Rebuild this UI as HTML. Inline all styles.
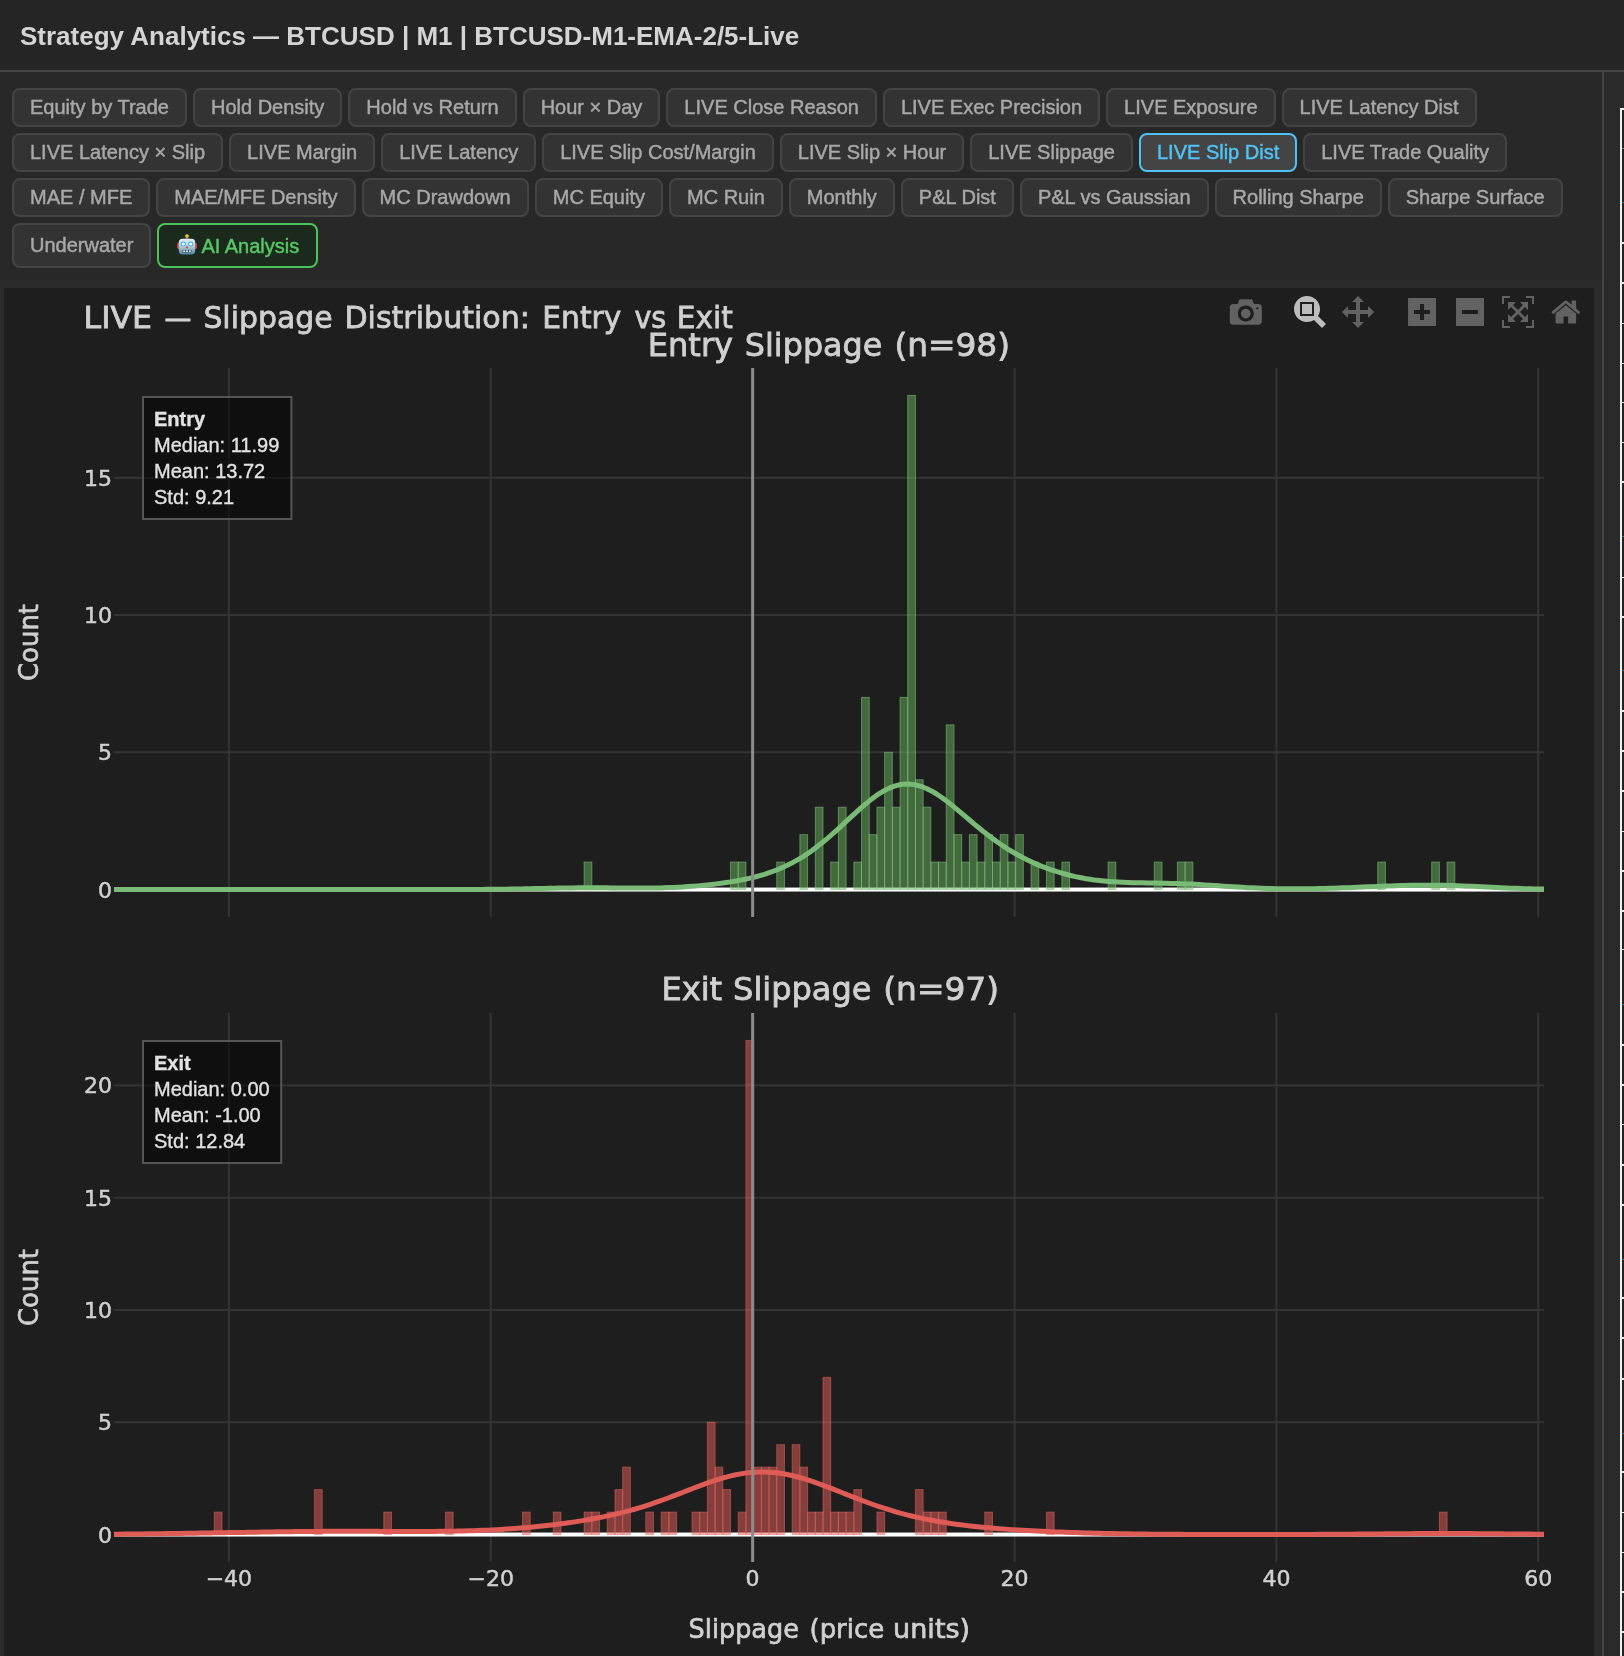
<!DOCTYPE html><html><head><meta charset="utf-8"><title>Strategy Analytics</title><style>
*{box-sizing:border-box}
html,body{margin:0;padding:0}
body{width:1624px;height:1656px;overflow:hidden;position:relative;background:#2b2b2b;font-family:"Liberation Sans",Arial,Helvetica,sans-serif;}
#hdr{position:absolute;left:0;top:0;width:1624px;height:72px;background:#252525;border-bottom:2px solid #444}
#hdr h1{position:absolute;left:20px;top:21px;margin:0;font-size:26px;line-height:30px;font-weight:bold;color:#d4d4d4;white-space:nowrap;letter-spacing:0}
#tabs{position:absolute;left:12px;top:88px;width:1600px}
.row{display:flex;gap:6px;margin-bottom:6px;align-items:flex-start}
.tab{height:39px;border:2px solid #444;border-radius:8px;background:#333;color:#a8a8a8;font-size:20px;line-height:35px;padding:0 16px;white-space:nowrap;-webkit-text-stroke:0.45px currentColor}
.tab.act{background:#444;border-color:#4fc3f7;color:#4fc3f7}
.tab.tall{height:45px;line-height:40px}
.tab.ai{height:45px;line-height:40px;background:#1b2a1c;border-color:#4cc35a;color:#57c766;display:flex;align-items:center;padding:0 17px 0 18px}
.tab.ai svg{margin-right:4px;display:block;position:relative;top:-0.9px}
.tab.ai span{position:relative;top:0.5px}
.brk{flex-basis:100%;height:0}
#tabbar{position:absolute;left:0;top:72px;width:1602px;height:208px;background:#282828}
#rpanel{position:absolute;left:1604px;top:72px;width:20px;height:1584px;background:#2a2a2a}
#divider{position:absolute;left:1602px;top:72px;width:2px;height:1584px;background:#444}
#chart{position:absolute;left:4px;top:288px;will-change:transform}
#tabs,#hdr h1{will-change:transform}
.rt{position:absolute;background:#efefef}
</style></head><body>
<div id="hdr"><h1>Strategy Analytics — BTCUSD | M1 | BTCUSD-M1-EMA-2/5-Live</h1></div>
<div id="tabbar"></div><div id="rpanel"></div>
<div id="tabs">
<div class="row">
<div class="tab">Equity by Trade</div>
<div class="tab">Hold Density</div>
<div class="tab">Hold vs Return</div>
<div class="tab">Hour × Day</div>
<div class="tab">LIVE Close Reason</div>
<div class="tab">LIVE Exec Precision</div>
<div class="tab">LIVE Exposure</div>
<div class="tab">LIVE Latency Dist</div>
</div>
<div class="row">
<div class="tab">LIVE Latency × Slip</div>
<div class="tab">LIVE Margin</div>
<div class="tab">LIVE Latency</div>
<div class="tab">LIVE Slip Cost/Margin</div>
<div class="tab">LIVE Slip × Hour</div>
<div class="tab">LIVE Slippage</div>
<div class="tab act">LIVE Slip Dist</div>
<div class="tab">LIVE Trade Quality</div>
</div>
<div class="row">
<div class="tab">MAE / MFE</div>
<div class="tab">MAE/MFE Density</div>
<div class="tab">MC Drawdown</div>
<div class="tab">MC Equity</div>
<div class="tab">MC Ruin</div>
<div class="tab">Monthly</div>
<div class="tab">P&amp;L Dist</div>
<div class="tab">P&amp;L vs Gaussian</div>
<div class="tab">Rolling Sharpe</div>
<div class="tab">Sharpe Surface</div>
</div>
<div class="row">
<div class="tab tall">Underwater</div>
<div class="tab ai"><svg width="20" height="21.3" viewBox="0 0 20 22" preserveAspectRatio="none"><defs><linearGradient id="rg" x1="0" y1="0" x2="0" y2="1"><stop offset="0" stop-color="#e6f0f4"/><stop offset="0.45" stop-color="#b9d3de"/><stop offset="1" stop-color="#4f84a0"/></linearGradient></defs><rect x="8.6" y="3.4" width="2.8" height="2.2" rx="0.8" fill="#7d4fa3"/><circle cx="10" cy="2.1" r="1.9" fill="#f4c430"/><rect x="0" y="9.3" width="3" height="6.2" rx="1.2" fill="#c5473a"/><rect x="17" y="9.3" width="3" height="6.2" rx="1.2" fill="#c5473a"/><rect x="1.8" y="4.8" width="16.4" height="16.4" rx="3.8" fill="url(#rg)"/><circle cx="6.3" cy="10.4" r="2.6" fill="#35b6e6"/><circle cx="13.7" cy="10.4" r="2.6" fill="#35b6e6"/><circle cx="6.3" cy="10.4" r="1.6" fill="#f4fbfd"/><circle cx="13.7" cy="10.4" r="1.6" fill="#f4fbfd"/><path d="M8.7 14.6 L11.3 14.6 L10 11.6 Z" fill="#e0493b"/><rect x="5.4" y="16.4" width="9.2" height="2.6" rx="0.7" fill="#3d5663"/><rect x="6.2" y="17" width="1.9" height="1.5" fill="#e8eef0"/><rect x="9.05" y="17" width="1.9" height="1.5" fill="#e8eef0"/><rect x="11.9" y="17" width="1.9" height="1.5" fill="#e8eef0"/></svg><span>AI Analysis</span></div>
</div>
</div>
<div id="divider"></div>
<div style="position:absolute;left:1622px;top:110px;width:2px;height:1546px;background:#222"></div>
<div class="rt" style="left:1620px;top:108px;width:2px;height:1548px"></div>
<div class="rt" style="left:1622px;top:108px;width:2px;height:2px"></div>
<div class="rt" style="left:1622px;top:148px;width:2px;height:1.4px;background:#777"></div>
<div class="rt" style="left:1622px;top:242.4px;width:2px;height:1.6px"></div>
<div class="rt" style="left:1622px;top:282.3px;width:2px;height:1.6px"></div>
<div class="rt" style="left:1622px;top:322.6px;width:2px;height:1.6px"></div>
<div class="rt" style="left:1622px;top:362.5px;width:2px;height:1.6px"></div>
<div class="rt" style="left:1622px;top:401.7px;width:2px;height:1.6px"></div>
<div class="rt" style="left:1622px;top:441.5px;width:2px;height:1.6px"></div>
<div class="rt" style="left:1622px;top:481.2px;width:2px;height:1.6px"></div>
<div class="rt" style="left:1622px;top:576.5px;width:2px;height:1.6px"></div>
<div class="rt" style="left:1622px;top:616.2px;width:2px;height:1.6px"></div>
<div class="rt" style="left:1622px;top:710.2px;width:2px;height:1.6px"></div>
<div class="rt" style="left:1622px;top:750.2px;width:2px;height:1.6px"></div>
<div class="rt" style="left:1622px;top:790.2px;width:2px;height:1.6px"></div>
<div class="rt" style="left:1622px;top:830.5px;width:2px;height:1.6px"></div>
<div class="rt" style="left:1622px;top:870.2px;width:2px;height:1.6px"></div>
<div class="rt" style="left:1622px;top:910.2px;width:2px;height:1.6px"></div>
<div class="rt" style="left:1622px;top:948.9px;width:2px;height:1.6px"></div>
<div class="rt" style="left:1622px;top:1044.2px;width:2px;height:1.6px"></div>
<div class="rt" style="left:1622px;top:1084.2px;width:2px;height:1.6px"></div>
<div class="rt" style="left:1622px;top:1123.8px;width:2px;height:1.6px"></div>
<div class="rt" style="left:1622px;top:1164.2px;width:2px;height:1.6px"></div>
<div class="rt" style="left:1622px;top:1204.2px;width:2px;height:1.6px"></div>
<div class="rt" style="left:1622px;top:1297.2px;width:2px;height:1.6px"></div>
<div class="rt" style="left:1622px;top:1337.2px;width:2px;height:1.6px"></div>
<div class="rt" style="left:1622px;top:1378.2px;width:2px;height:1.6px"></div>
<div class="rt" style="left:1622px;top:1471.2px;width:2px;height:1.6px"></div>
<div class="rt" style="left:1622px;top:1511.7px;width:2px;height:1.6px"></div>
<div class="rt" style="left:1622px;top:1551.7px;width:2px;height:1.6px"></div>
<div class="rt" style="left:1622px;top:1591.2px;width:2px;height:1.6px"></div>
<div class="rt" style="left:1622px;top:1631.2px;width:2px;height:1.6px"></div>
<div class="rt" style="left:1622px;top:202.2px;width:2px;height:1px;background:#3f6f8c"></div>
<div class="rt" style="left:1622px;top:536.2px;width:2px;height:1px;background:#3f6f8c"></div>
<div class="rt" style="left:1622px;top:670.0px;width:2px;height:1px;background:#3f6f8c"></div>
<div class="rt" style="left:1622px;top:1004.1px;width:2px;height:1px;background:#3f6f8c"></div>
<div class="rt" style="left:1622px;top:1258.5px;width:2px;height:1px;background:#3f6f8c"></div>
<div class="rt" style="left:1622px;top:1432.5px;width:2px;height:1px;background:#3f6f8c"></div>
<svg id="chart" width="1590" height="1368" viewBox="4 288 1590 1368" font-family="'DejaVu Sans',Verdana,sans-serif">
<rect x="4" y="288" width="1590" height="1368" fill="#1e1e1e"/>
<defs><clipPath id="c1"><rect x="114" y="368" width="1430" height="549"/></clipPath><clipPath id="c2"><rect x="114" y="1013" width="1430" height="549"/></clipPath></defs>
<rect x="227.85" y="368.0" width="2" height="549.0" fill="#343434"/>
<rect x="489.74" y="368.0" width="2" height="549.0" fill="#343434"/>
<rect x="751.63" y="368.0" width="2" height="549.0" fill="#343434"/>
<rect x="1013.52" y="368.0" width="2" height="549.0" fill="#343434"/>
<rect x="1275.41" y="368.0" width="2" height="549.0" fill="#343434"/>
<rect x="1537.30" y="368.0" width="2" height="549.0" fill="#343434"/>
<rect x="114" y="751.30" width="1430" height="2" fill="#343434"/>
<rect x="114" y="614.05" width="1430" height="2" fill="#343434"/>
<rect x="114" y="476.80" width="1430" height="2" fill="#343434"/>
<rect x="114" y="887.55" width="1430" height="4" fill="#ffffff"/>
<g clip-path="url(#c1)">
<rect x="584.14" y="862.10" width="7.705" height="27.45" fill="rgba(104,182,92,0.5)" stroke="rgba(129,199,132,0.55)" stroke-width="1"/>
<rect x="730.54" y="862.10" width="7.705" height="27.45" fill="rgba(104,182,92,0.5)" stroke="rgba(129,199,132,0.55)" stroke-width="1"/>
<rect x="738.24" y="862.10" width="7.705" height="27.45" fill="rgba(104,182,92,0.5)" stroke="rgba(129,199,132,0.55)" stroke-width="1"/>
<rect x="776.77" y="862.10" width="7.705" height="27.45" fill="rgba(104,182,92,0.5)" stroke="rgba(129,199,132,0.55)" stroke-width="1"/>
<rect x="799.88" y="834.65" width="7.705" height="54.90" fill="rgba(104,182,92,0.5)" stroke="rgba(129,199,132,0.55)" stroke-width="1"/>
<rect x="815.29" y="807.20" width="7.705" height="82.35" fill="rgba(104,182,92,0.5)" stroke="rgba(129,199,132,0.55)" stroke-width="1"/>
<rect x="830.70" y="862.10" width="7.705" height="27.45" fill="rgba(104,182,92,0.5)" stroke="rgba(129,199,132,0.55)" stroke-width="1"/>
<rect x="838.40" y="807.20" width="7.705" height="82.35" fill="rgba(104,182,92,0.5)" stroke="rgba(129,199,132,0.55)" stroke-width="1"/>
<rect x="853.82" y="862.10" width="7.705" height="27.45" fill="rgba(104,182,92,0.5)" stroke="rgba(129,199,132,0.55)" stroke-width="1"/>
<rect x="861.52" y="697.40" width="7.705" height="192.15" fill="rgba(104,182,92,0.5)" stroke="rgba(129,199,132,0.55)" stroke-width="1"/>
<rect x="869.22" y="834.65" width="7.705" height="54.90" fill="rgba(104,182,92,0.5)" stroke="rgba(129,199,132,0.55)" stroke-width="1"/>
<rect x="876.93" y="807.20" width="7.705" height="82.35" fill="rgba(104,182,92,0.5)" stroke="rgba(129,199,132,0.55)" stroke-width="1"/>
<rect x="884.63" y="752.30" width="7.705" height="137.25" fill="rgba(104,182,92,0.5)" stroke="rgba(129,199,132,0.55)" stroke-width="1"/>
<rect x="892.34" y="807.20" width="7.705" height="82.35" fill="rgba(104,182,92,0.5)" stroke="rgba(129,199,132,0.55)" stroke-width="1"/>
<rect x="900.05" y="697.40" width="7.705" height="192.15" fill="rgba(104,182,92,0.5)" stroke="rgba(129,199,132,0.55)" stroke-width="1"/>
<rect x="907.75" y="395.45" width="7.705" height="494.10" fill="rgba(104,182,92,0.5)" stroke="rgba(129,199,132,0.55)" stroke-width="1"/>
<rect x="915.45" y="779.75" width="7.705" height="109.80" fill="rgba(104,182,92,0.5)" stroke="rgba(129,199,132,0.55)" stroke-width="1"/>
<rect x="923.16" y="807.20" width="7.705" height="82.35" fill="rgba(104,182,92,0.5)" stroke="rgba(129,199,132,0.55)" stroke-width="1"/>
<rect x="930.87" y="862.10" width="7.705" height="27.45" fill="rgba(104,182,92,0.5)" stroke="rgba(129,199,132,0.55)" stroke-width="1"/>
<rect x="938.57" y="862.10" width="7.705" height="27.45" fill="rgba(104,182,92,0.5)" stroke="rgba(129,199,132,0.55)" stroke-width="1"/>
<rect x="946.28" y="724.85" width="7.705" height="164.70" fill="rgba(104,182,92,0.5)" stroke="rgba(129,199,132,0.55)" stroke-width="1"/>
<rect x="953.98" y="834.65" width="7.705" height="54.90" fill="rgba(104,182,92,0.5)" stroke="rgba(129,199,132,0.55)" stroke-width="1"/>
<rect x="961.68" y="862.10" width="7.705" height="27.45" fill="rgba(104,182,92,0.5)" stroke="rgba(129,199,132,0.55)" stroke-width="1"/>
<rect x="969.39" y="834.65" width="7.705" height="54.90" fill="rgba(104,182,92,0.5)" stroke="rgba(129,199,132,0.55)" stroke-width="1"/>
<rect x="977.10" y="862.10" width="7.705" height="27.45" fill="rgba(104,182,92,0.5)" stroke="rgba(129,199,132,0.55)" stroke-width="1"/>
<rect x="984.80" y="834.65" width="7.705" height="54.90" fill="rgba(104,182,92,0.5)" stroke="rgba(129,199,132,0.55)" stroke-width="1"/>
<rect x="992.51" y="862.10" width="7.705" height="27.45" fill="rgba(104,182,92,0.5)" stroke="rgba(129,199,132,0.55)" stroke-width="1"/>
<rect x="1000.21" y="834.65" width="7.705" height="54.90" fill="rgba(104,182,92,0.5)" stroke="rgba(129,199,132,0.55)" stroke-width="1"/>
<rect x="1007.91" y="862.10" width="7.705" height="27.45" fill="rgba(104,182,92,0.5)" stroke="rgba(129,199,132,0.55)" stroke-width="1"/>
<rect x="1015.62" y="834.65" width="7.705" height="54.90" fill="rgba(104,182,92,0.5)" stroke="rgba(129,199,132,0.55)" stroke-width="1"/>
<rect x="1031.03" y="862.10" width="7.705" height="27.45" fill="rgba(104,182,92,0.5)" stroke="rgba(129,199,132,0.55)" stroke-width="1"/>
<rect x="1046.44" y="862.10" width="7.705" height="27.45" fill="rgba(104,182,92,0.5)" stroke="rgba(129,199,132,0.55)" stroke-width="1"/>
<rect x="1061.85" y="862.10" width="7.705" height="27.45" fill="rgba(104,182,92,0.5)" stroke="rgba(129,199,132,0.55)" stroke-width="1"/>
<rect x="1108.08" y="862.10" width="7.705" height="27.45" fill="rgba(104,182,92,0.5)" stroke="rgba(129,199,132,0.55)" stroke-width="1"/>
<rect x="1154.31" y="862.10" width="7.705" height="27.45" fill="rgba(104,182,92,0.5)" stroke="rgba(129,199,132,0.55)" stroke-width="1"/>
<rect x="1177.42" y="862.10" width="7.705" height="27.45" fill="rgba(104,182,92,0.5)" stroke="rgba(129,199,132,0.55)" stroke-width="1"/>
<rect x="1185.13" y="862.10" width="7.705" height="27.45" fill="rgba(104,182,92,0.5)" stroke="rgba(129,199,132,0.55)" stroke-width="1"/>
<rect x="1377.75" y="862.10" width="7.705" height="27.45" fill="rgba(104,182,92,0.5)" stroke="rgba(129,199,132,0.55)" stroke-width="1"/>
<rect x="1431.69" y="862.10" width="7.705" height="27.45" fill="rgba(104,182,92,0.5)" stroke="rgba(129,199,132,0.55)" stroke-width="1"/>
<rect x="1447.10" y="862.10" width="7.705" height="27.45" fill="rgba(104,182,92,0.5)" stroke="rgba(129,199,132,0.55)" stroke-width="1"/>
<path d="M114.0,889.55 L118.8,889.55 L123.6,889.55 L128.3,889.55 L133.1,889.55 L137.9,889.55 L142.7,889.55 L147.5,889.55 L152.3,889.55 L157.0,889.55 L161.8,889.55 L166.6,889.55 L171.4,889.55 L176.2,889.55 L181.0,889.55 L185.7,889.55 L190.5,889.55 L195.3,889.55 L200.1,889.55 L204.9,889.55 L209.7,889.55 L214.4,889.55 L219.2,889.55 L224.0,889.55 L228.8,889.55 L233.6,889.55 L238.3,889.55 L243.1,889.55 L247.9,889.55 L252.7,889.55 L257.5,889.55 L262.3,889.55 L267.0,889.55 L271.8,889.55 L276.6,889.55 L281.4,889.55 L286.2,889.55 L291.0,889.55 L295.7,889.55 L300.5,889.55 L305.3,889.55 L310.1,889.55 L314.9,889.55 L319.7,889.55 L324.4,889.55 L329.2,889.55 L334.0,889.55 L338.8,889.55 L343.6,889.55 L348.3,889.55 L353.1,889.55 L357.9,889.55 L362.7,889.55 L367.5,889.55 L372.3,889.55 L377.0,889.55 L381.8,889.55 L386.6,889.55 L391.4,889.55 L396.2,889.55 L401.0,889.55 L405.7,889.55 L410.5,889.55 L415.3,889.55 L420.1,889.55 L424.9,889.54 L429.7,889.54 L434.4,889.54 L439.2,889.53 L444.0,889.53 L448.8,889.52 L453.6,889.51 L458.3,889.50 L463.1,889.49 L467.9,889.47 L472.7,889.45 L477.5,889.42 L482.3,889.39 L487.0,889.35 L491.8,889.31 L496.6,889.25 L501.4,889.20 L506.2,889.13 L511.0,889.06 L515.7,888.98 L520.5,888.89 L525.3,888.79 L530.1,888.70 L534.9,888.59 L539.7,888.49 L544.4,888.39 L549.2,888.28 L554.0,888.19 L558.8,888.10 L563.6,888.01 L568.3,887.94 L573.1,887.88 L577.9,887.83 L582.7,887.80 L587.5,887.78 L592.3,887.78 L597.0,887.79 L601.8,887.81 L606.6,887.84 L611.4,887.88 L616.2,887.92 L621.0,887.97 L625.7,888.01 L630.5,888.04 L635.3,888.06 L640.1,888.07 L644.9,888.06 L649.7,888.03 L654.4,887.97 L659.2,887.88 L664.0,887.76 L668.8,887.60 L673.6,887.41 L678.3,887.18 L683.1,886.92 L687.9,886.61 L692.7,886.27 L697.5,885.88 L702.3,885.45 L707.0,884.97 L711.8,884.45 L716.6,883.89 L721.4,883.26 L726.2,882.59 L731.0,881.85 L735.7,881.04 L740.5,880.16 L745.3,879.19 L750.1,878.13 L754.9,876.97 L759.7,875.68 L764.4,874.27 L769.2,872.71 L774.0,871.00 L778.8,869.12 L783.6,867.06 L788.3,864.81 L793.1,862.35 L797.9,859.68 L802.7,856.79 L807.5,853.68 L812.3,850.35 L817.0,846.80 L821.8,843.04 L826.6,839.09 L831.4,834.97 L836.2,830.71 L841.0,826.34 L845.7,821.90 L850.5,817.45 L855.3,813.04 L860.1,808.72 L864.9,804.56 L869.7,800.63 L874.4,796.98 L879.2,793.68 L884.0,790.79 L888.8,788.36 L893.6,786.44 L898.3,785.06 L903.1,784.25 L907.9,784.02 L912.7,784.37 L917.5,785.29 L922.3,786.75 L927.0,788.72 L931.8,791.16 L936.6,794.01 L941.4,797.21 L946.2,800.72 L951.0,804.45 L955.7,808.35 L960.5,812.36 L965.3,816.43 L970.1,820.50 L974.9,824.54 L979.7,828.50 L984.4,832.34 L989.2,836.06 L994.0,839.63 L998.8,843.04 L1003.6,846.29 L1008.3,849.36 L1013.1,852.26 L1017.9,855.00 L1022.7,857.57 L1027.5,859.99 L1032.3,862.25 L1037.0,864.36 L1041.8,866.34 L1046.6,868.18 L1051.4,869.89 L1056.2,871.47 L1061.0,872.92 L1065.7,874.26 L1070.5,875.47 L1075.3,876.58 L1080.1,877.57 L1084.9,878.46 L1089.7,879.24 L1094.4,879.93 L1099.2,880.52 L1104.0,881.03 L1108.8,881.46 L1113.6,881.81 L1118.3,882.10 L1123.1,882.33 L1127.9,882.51 L1132.7,882.66 L1137.5,882.77 L1142.3,882.86 L1147.0,882.94 L1151.8,883.01 L1156.6,883.09 L1161.4,883.17 L1166.2,883.27 L1171.0,883.39 L1175.7,883.53 L1180.5,883.70 L1185.3,883.89 L1190.1,884.11 L1194.9,884.36 L1199.7,884.62 L1204.4,884.91 L1209.2,885.21 L1214.0,885.53 L1218.8,885.84 L1223.6,886.16 L1228.3,886.48 L1233.1,886.79 L1237.9,887.09 L1242.7,887.37 L1247.5,887.63 L1252.3,887.86 L1257.0,888.08 L1261.8,888.27 L1266.6,888.43 L1271.4,888.56 L1276.2,888.67 L1281.0,888.76 L1285.7,888.81 L1290.5,888.85 L1295.3,888.85 L1300.1,888.84 L1304.9,888.80 L1309.7,888.74 L1314.4,888.66 L1319.2,888.56 L1324.0,888.44 L1328.8,888.31 L1333.6,888.16 L1338.3,888.00 L1343.1,887.83 L1347.9,887.65 L1352.7,887.45 L1357.5,887.26 L1362.3,887.06 L1367.0,886.85 L1371.8,886.65 L1376.6,886.45 L1381.4,886.26 L1386.2,886.07 L1391.0,885.89 L1395.7,885.73 L1400.5,885.59 L1405.3,885.46 L1410.1,885.35 L1414.9,885.27 L1419.7,885.21 L1424.4,885.18 L1429.2,885.18 L1434.0,885.21 L1438.8,885.26 L1443.6,885.35 L1448.3,885.46 L1453.1,885.60 L1457.9,885.76 L1462.7,885.95 L1467.5,886.15 L1472.3,886.36 L1477.0,886.59 L1481.8,886.82 L1486.6,887.06 L1491.4,887.29 L1496.2,887.52 L1501.0,887.74 L1505.7,887.95 L1510.5,888.15 L1515.3,888.34 L1520.1,888.51 L1524.9,888.66 L1529.7,888.80 L1534.4,888.92 L1539.2,889.03 L1544.0,889.12" fill="none" stroke="#7aba77" stroke-width="5" stroke-linejoin="round"/>
</g>
<rect x="751.13" y="368.0" width="3" height="549.0" fill="#8c8c8c"/>
<text x="112" y="897.5" font-size="22" fill="#d0d0d0" stroke="#d0d0d0" stroke-width="0.5" text-anchor="end">0</text>
<text x="112" y="760.3" font-size="22" fill="#d0d0d0" stroke="#d0d0d0" stroke-width="0.5" text-anchor="end">5</text>
<text x="112" y="623.0" font-size="22" fill="#d0d0d0" stroke="#d0d0d0" stroke-width="0.5" text-anchor="end">10</text>
<text x="112" y="485.8" font-size="22" fill="#d0d0d0" stroke="#d0d0d0" stroke-width="0.5" text-anchor="end">15</text>
<text transform="translate(37.5,642.5) rotate(-90)"  font-size="26" fill="#d0d0d0" stroke="#d0d0d0" stroke-width="0.65" text-anchor="middle" textLength="77" lengthAdjust="spacingAndGlyphs">Count</text>
<rect x="227.85" y="1013.0" width="2" height="549.0" fill="#343434"/>
<rect x="489.74" y="1013.0" width="2" height="549.0" fill="#343434"/>
<rect x="751.63" y="1013.0" width="2" height="549.0" fill="#343434"/>
<rect x="1013.52" y="1013.0" width="2" height="549.0" fill="#343434"/>
<rect x="1275.41" y="1013.0" width="2" height="549.0" fill="#343434"/>
<rect x="1537.30" y="1013.0" width="2" height="549.0" fill="#343434"/>
<rect x="114" y="1421.25" width="1430" height="2" fill="#343434"/>
<rect x="114" y="1308.96" width="1430" height="2" fill="#343434"/>
<rect x="114" y="1196.66" width="1430" height="2" fill="#343434"/>
<rect x="114" y="1084.37" width="1430" height="2" fill="#343434"/>
<rect x="114" y="1532.55" width="1430" height="4" fill="#ffffff"/>
<g clip-path="url(#c2)">
<rect x="214.30" y="1512.09" width="7.705" height="22.46" fill="rgba(234,96,90,0.5)" stroke="rgba(236,104,98,0.5)" stroke-width="1"/>
<rect x="314.47" y="1489.63" width="7.705" height="44.92" fill="rgba(234,96,90,0.5)" stroke="rgba(236,104,98,0.5)" stroke-width="1"/>
<rect x="383.81" y="1512.09" width="7.705" height="22.46" fill="rgba(234,96,90,0.5)" stroke="rgba(236,104,98,0.5)" stroke-width="1"/>
<rect x="445.45" y="1512.09" width="7.705" height="22.46" fill="rgba(234,96,90,0.5)" stroke="rgba(236,104,98,0.5)" stroke-width="1"/>
<rect x="522.50" y="1512.09" width="7.705" height="22.46" fill="rgba(234,96,90,0.5)" stroke="rgba(236,104,98,0.5)" stroke-width="1"/>
<rect x="553.32" y="1512.09" width="7.705" height="22.46" fill="rgba(234,96,90,0.5)" stroke="rgba(236,104,98,0.5)" stroke-width="1"/>
<rect x="584.14" y="1512.09" width="7.705" height="22.46" fill="rgba(234,96,90,0.5)" stroke="rgba(236,104,98,0.5)" stroke-width="1"/>
<rect x="591.85" y="1512.09" width="7.705" height="22.46" fill="rgba(234,96,90,0.5)" stroke="rgba(236,104,98,0.5)" stroke-width="1"/>
<rect x="607.25" y="1512.09" width="7.705" height="22.46" fill="rgba(234,96,90,0.5)" stroke="rgba(236,104,98,0.5)" stroke-width="1"/>
<rect x="614.96" y="1489.63" width="7.705" height="44.92" fill="rgba(234,96,90,0.5)" stroke="rgba(236,104,98,0.5)" stroke-width="1"/>
<rect x="622.66" y="1467.17" width="7.705" height="67.38" fill="rgba(234,96,90,0.5)" stroke="rgba(236,104,98,0.5)" stroke-width="1"/>
<rect x="645.78" y="1512.09" width="7.705" height="22.46" fill="rgba(234,96,90,0.5)" stroke="rgba(236,104,98,0.5)" stroke-width="1"/>
<rect x="661.19" y="1512.09" width="7.705" height="22.46" fill="rgba(234,96,90,0.5)" stroke="rgba(236,104,98,0.5)" stroke-width="1"/>
<rect x="668.89" y="1512.09" width="7.705" height="22.46" fill="rgba(234,96,90,0.5)" stroke="rgba(236,104,98,0.5)" stroke-width="1"/>
<rect x="692.01" y="1512.09" width="7.705" height="22.46" fill="rgba(234,96,90,0.5)" stroke="rgba(236,104,98,0.5)" stroke-width="1"/>
<rect x="699.72" y="1512.09" width="7.705" height="22.46" fill="rgba(234,96,90,0.5)" stroke="rgba(236,104,98,0.5)" stroke-width="1"/>
<rect x="707.42" y="1422.25" width="7.705" height="112.30" fill="rgba(234,96,90,0.5)" stroke="rgba(236,104,98,0.5)" stroke-width="1"/>
<rect x="715.12" y="1467.17" width="7.705" height="67.38" fill="rgba(234,96,90,0.5)" stroke="rgba(236,104,98,0.5)" stroke-width="1"/>
<rect x="722.83" y="1489.63" width="7.705" height="44.92" fill="rgba(234,96,90,0.5)" stroke="rgba(236,104,98,0.5)" stroke-width="1"/>
<rect x="738.24" y="1512.09" width="7.705" height="22.46" fill="rgba(234,96,90,0.5)" stroke="rgba(236,104,98,0.5)" stroke-width="1"/>
<rect x="745.94" y="1040.45" width="7.705" height="494.10" fill="rgba(234,96,90,0.5)" stroke="rgba(236,104,98,0.5)" stroke-width="1"/>
<rect x="753.65" y="1467.17" width="7.705" height="67.38" fill="rgba(234,96,90,0.5)" stroke="rgba(236,104,98,0.5)" stroke-width="1"/>
<rect x="761.36" y="1467.17" width="7.705" height="67.38" fill="rgba(234,96,90,0.5)" stroke="rgba(236,104,98,0.5)" stroke-width="1"/>
<rect x="769.06" y="1467.17" width="7.705" height="67.38" fill="rgba(234,96,90,0.5)" stroke="rgba(236,104,98,0.5)" stroke-width="1"/>
<rect x="776.77" y="1444.71" width="7.705" height="89.84" fill="rgba(234,96,90,0.5)" stroke="rgba(236,104,98,0.5)" stroke-width="1"/>
<rect x="792.17" y="1444.71" width="7.705" height="89.84" fill="rgba(234,96,90,0.5)" stroke="rgba(236,104,98,0.5)" stroke-width="1"/>
<rect x="799.88" y="1467.17" width="7.705" height="67.38" fill="rgba(234,96,90,0.5)" stroke="rgba(236,104,98,0.5)" stroke-width="1"/>
<rect x="807.59" y="1512.09" width="7.705" height="22.46" fill="rgba(234,96,90,0.5)" stroke="rgba(236,104,98,0.5)" stroke-width="1"/>
<rect x="815.29" y="1512.09" width="7.705" height="22.46" fill="rgba(234,96,90,0.5)" stroke="rgba(236,104,98,0.5)" stroke-width="1"/>
<rect x="823.00" y="1377.34" width="7.705" height="157.21" fill="rgba(234,96,90,0.5)" stroke="rgba(236,104,98,0.5)" stroke-width="1"/>
<rect x="830.70" y="1512.09" width="7.705" height="22.46" fill="rgba(234,96,90,0.5)" stroke="rgba(236,104,98,0.5)" stroke-width="1"/>
<rect x="838.40" y="1512.09" width="7.705" height="22.46" fill="rgba(234,96,90,0.5)" stroke="rgba(236,104,98,0.5)" stroke-width="1"/>
<rect x="846.11" y="1512.09" width="7.705" height="22.46" fill="rgba(234,96,90,0.5)" stroke="rgba(236,104,98,0.5)" stroke-width="1"/>
<rect x="853.82" y="1489.63" width="7.705" height="44.92" fill="rgba(234,96,90,0.5)" stroke="rgba(236,104,98,0.5)" stroke-width="1"/>
<rect x="876.93" y="1512.09" width="7.705" height="22.46" fill="rgba(234,96,90,0.5)" stroke="rgba(236,104,98,0.5)" stroke-width="1"/>
<rect x="915.45" y="1489.63" width="7.705" height="44.92" fill="rgba(234,96,90,0.5)" stroke="rgba(236,104,98,0.5)" stroke-width="1"/>
<rect x="923.16" y="1512.09" width="7.705" height="22.46" fill="rgba(234,96,90,0.5)" stroke="rgba(236,104,98,0.5)" stroke-width="1"/>
<rect x="930.87" y="1512.09" width="7.705" height="22.46" fill="rgba(234,96,90,0.5)" stroke="rgba(236,104,98,0.5)" stroke-width="1"/>
<rect x="938.57" y="1512.09" width="7.705" height="22.46" fill="rgba(234,96,90,0.5)" stroke="rgba(236,104,98,0.5)" stroke-width="1"/>
<rect x="984.80" y="1512.09" width="7.705" height="22.46" fill="rgba(234,96,90,0.5)" stroke="rgba(236,104,98,0.5)" stroke-width="1"/>
<rect x="1046.44" y="1512.09" width="7.705" height="22.46" fill="rgba(234,96,90,0.5)" stroke="rgba(236,104,98,0.5)" stroke-width="1"/>
<rect x="1439.39" y="1512.09" width="7.705" height="22.46" fill="rgba(234,96,90,0.5)" stroke="rgba(236,104,98,0.5)" stroke-width="1"/>
<path d="M114.0,1534.16 L118.8,1534.13 L123.6,1534.09 L128.3,1534.06 L133.1,1534.01 L137.9,1533.97 L142.7,1533.91 L147.5,1533.86 L152.3,1533.80 L157.0,1533.74 L161.8,1533.68 L166.6,1533.61 L171.4,1533.54 L176.2,1533.47 L181.0,1533.40 L185.7,1533.33 L190.5,1533.25 L195.3,1533.18 L200.1,1533.10 L204.9,1533.02 L209.7,1532.94 L214.4,1532.86 L219.2,1532.78 L224.0,1532.70 L228.8,1532.62 L233.6,1532.54 L238.3,1532.46 L243.1,1532.38 L247.9,1532.30 L252.7,1532.22 L257.5,1532.15 L262.3,1532.07 L267.0,1531.99 L271.8,1531.92 L276.6,1531.85 L281.4,1531.78 L286.2,1531.72 L291.0,1531.66 L295.7,1531.60 L300.5,1531.55 L305.3,1531.50 L310.1,1531.45 L314.9,1531.41 L319.7,1531.38 L324.4,1531.35 L329.2,1531.33 L334.0,1531.31 L338.8,1531.30 L343.6,1531.29 L348.3,1531.29 L353.1,1531.29 L357.9,1531.30 L362.7,1531.31 L367.5,1531.32 L372.3,1531.34 L377.0,1531.36 L381.8,1531.38 L386.6,1531.39 L391.4,1531.41 L396.2,1531.43 L401.0,1531.44 L405.7,1531.45 L410.5,1531.46 L415.3,1531.46 L420.1,1531.46 L424.9,1531.45 L429.7,1531.43 L434.4,1531.40 L439.2,1531.36 L444.0,1531.31 L448.8,1531.25 L453.6,1531.17 L458.3,1531.08 L463.1,1530.97 L467.9,1530.85 L472.7,1530.70 L477.5,1530.54 L482.3,1530.36 L487.0,1530.15 L491.8,1529.93 L496.6,1529.68 L501.4,1529.41 L506.2,1529.11 L511.0,1528.79 L515.7,1528.44 L520.5,1528.07 L525.3,1527.67 L530.1,1527.24 L534.9,1526.79 L539.7,1526.31 L544.4,1525.80 L549.2,1525.26 L554.0,1524.69 L558.8,1524.10 L563.6,1523.47 L568.3,1522.81 L573.1,1522.12 L577.9,1521.39 L582.7,1520.62 L587.5,1519.82 L592.3,1518.97 L597.0,1518.08 L601.8,1517.14 L606.6,1516.15 L611.4,1515.11 L616.2,1514.00 L621.0,1512.84 L625.7,1511.62 L630.5,1510.33 L635.3,1508.98 L640.1,1507.55 L644.9,1506.07 L649.7,1504.52 L654.4,1502.90 L659.2,1501.23 L664.0,1499.50 L668.8,1497.73 L673.6,1495.92 L678.3,1494.08 L683.1,1492.22 L687.9,1490.36 L692.7,1488.51 L697.5,1486.68 L702.3,1484.89 L707.0,1483.16 L711.8,1481.49 L716.6,1479.91 L721.4,1478.44 L726.2,1477.09 L731.0,1475.87 L735.7,1474.79 L740.5,1473.88 L745.3,1473.13 L750.1,1472.56 L754.9,1472.18 L759.7,1471.98 L764.4,1471.98 L769.2,1472.16 L774.0,1472.54 L778.8,1473.10 L783.6,1473.83 L788.3,1474.73 L793.1,1475.80 L797.9,1477.01 L802.7,1478.35 L807.5,1479.82 L812.3,1481.39 L817.0,1483.05 L821.8,1484.79 L826.6,1486.59 L831.4,1488.44 L836.2,1490.32 L841.0,1492.21 L845.7,1494.11 L850.5,1496.00 L855.3,1497.87 L860.1,1499.71 L864.9,1501.52 L869.7,1503.27 L874.4,1504.98 L879.2,1506.62 L884.0,1508.21 L888.8,1509.72 L893.6,1511.17 L898.3,1512.55 L903.1,1513.86 L907.9,1515.10 L912.7,1516.27 L917.5,1517.38 L922.3,1518.42 L927.0,1519.40 L931.8,1520.32 L936.6,1521.19 L941.4,1522.00 L946.2,1522.76 L951.0,1523.48 L955.7,1524.15 L960.5,1524.78 L965.3,1525.38 L970.1,1525.93 L974.9,1526.46 L979.7,1526.95 L984.4,1527.42 L989.2,1527.85 L994.0,1528.27 L998.8,1528.65 L1003.6,1529.02 L1008.3,1529.37 L1013.1,1529.69 L1017.9,1530.00 L1022.7,1530.29 L1027.5,1530.57 L1032.3,1530.83 L1037.0,1531.07 L1041.8,1531.31 L1046.6,1531.52 L1051.4,1531.73 L1056.2,1531.93 L1061.0,1532.11 L1065.7,1532.29 L1070.5,1532.45 L1075.3,1532.61 L1080.1,1532.76 L1084.9,1532.90 L1089.7,1533.03 L1094.4,1533.15 L1099.2,1533.27 L1104.0,1533.38 L1108.8,1533.48 L1113.6,1533.58 L1118.3,1533.67 L1123.1,1533.75 L1127.9,1533.83 L1132.7,1533.91 L1137.5,1533.97 L1142.3,1534.04 L1147.0,1534.09 L1151.8,1534.14 L1156.6,1534.19 L1161.4,1534.24 L1166.2,1534.27 L1171.0,1534.31 L1175.7,1534.34 L1180.5,1534.37 L1185.3,1534.39 L1190.1,1534.42 L1194.9,1534.44 L1199.7,1534.45 L1204.4,1534.47 L1209.2,1534.48 L1214.0,1534.49 L1218.8,1534.50 L1223.6,1534.51 L1228.3,1534.51 L1233.1,1534.52 L1237.9,1534.52 L1242.7,1534.52 L1247.5,1534.52 L1252.3,1534.52 L1257.0,1534.52 L1261.8,1534.52 L1266.6,1534.51 L1271.4,1534.51 L1276.2,1534.50 L1281.0,1534.49 L1285.7,1534.48 L1290.5,1534.47 L1295.3,1534.46 L1300.1,1534.44 L1304.9,1534.43 L1309.7,1534.41 L1314.4,1534.39 L1319.2,1534.36 L1324.0,1534.34 L1328.8,1534.31 L1333.6,1534.28 L1338.3,1534.25 L1343.1,1534.21 L1347.9,1534.17 L1352.7,1534.14 L1357.5,1534.09 L1362.3,1534.05 L1367.0,1534.01 L1371.8,1533.97 L1376.6,1533.92 L1381.4,1533.88 L1386.2,1533.83 L1391.0,1533.79 L1395.7,1533.75 L1400.5,1533.71 L1405.3,1533.67 L1410.1,1533.64 L1414.9,1533.61 L1419.7,1533.58 L1424.4,1533.56 L1429.2,1533.54 L1434.0,1533.53 L1438.8,1533.53 L1443.6,1533.52 L1448.3,1533.53 L1453.1,1533.53 L1457.9,1533.55 L1462.7,1533.56 L1467.5,1533.59 L1472.3,1533.61 L1477.0,1533.64 L1481.8,1533.68 L1486.6,1533.72 L1491.4,1533.76 L1496.2,1533.80 L1501.0,1533.84 L1505.7,1533.88 L1510.5,1533.93 L1515.3,1533.97 L1520.1,1534.02 L1524.9,1534.06 L1529.7,1534.10 L1534.4,1534.14 L1539.2,1534.18 L1544.0,1534.22" fill="none" stroke="#df5b56" stroke-width="5" stroke-linejoin="round"/>
</g>
<rect x="751.13" y="1013.0" width="3" height="549.0" fill="#8c8c8c"/>
<text x="112" y="1542.5" font-size="22" fill="#d0d0d0" stroke="#d0d0d0" stroke-width="0.5" text-anchor="end">0</text>
<text x="112" y="1430.3" font-size="22" fill="#d0d0d0" stroke="#d0d0d0" stroke-width="0.5" text-anchor="end">5</text>
<text x="112" y="1318.0" font-size="22" fill="#d0d0d0" stroke="#d0d0d0" stroke-width="0.5" text-anchor="end">10</text>
<text x="112" y="1205.7" font-size="22" fill="#d0d0d0" stroke="#d0d0d0" stroke-width="0.5" text-anchor="end">15</text>
<text x="112" y="1093.4" font-size="22" fill="#d0d0d0" stroke="#d0d0d0" stroke-width="0.5" text-anchor="end">20</text>
<text transform="translate(37.5,1287.5) rotate(-90)"  font-size="26" fill="#d0d0d0" stroke="#d0d0d0" stroke-width="0.65" text-anchor="middle" textLength="77" lengthAdjust="spacingAndGlyphs">Count</text>
<text x="228.9" y="1586" font-size="22" fill="#d0d0d0" stroke="#d0d0d0" stroke-width="0.5" text-anchor="middle">−40</text>
<text x="490.7" y="1586" font-size="22" fill="#d0d0d0" stroke="#d0d0d0" stroke-width="0.5" text-anchor="middle">−20</text>
<text x="752.6" y="1586" font-size="22" fill="#d0d0d0" stroke="#d0d0d0" stroke-width="0.5" text-anchor="middle">0</text>
<text x="1014.5" y="1586" font-size="22" fill="#d0d0d0" stroke="#d0d0d0" stroke-width="0.5" text-anchor="middle">20</text>
<text x="1276.4" y="1586" font-size="22" fill="#d0d0d0" stroke="#d0d0d0" stroke-width="0.5" text-anchor="middle">40</text>
<text x="1538.3" y="1586" font-size="22" fill="#d0d0d0" stroke="#d0d0d0" stroke-width="0.5" text-anchor="middle">60</text>
<text y="1637.5" font-size="26" fill="#d0d0d0" stroke="#d0d0d0" stroke-width="0.68"><tspan x="688.62" textLength="110.26" lengthAdjust="spacingAndGlyphs">Slippage</tspan> <tspan x="809.5" textLength="74.79" lengthAdjust="spacingAndGlyphs">(price</tspan> <tspan x="893.12" textLength="77.01" lengthAdjust="spacingAndGlyphs">units)</tspan></text>
<text y="328" font-size="30" fill="#d0d0d0" stroke="#d0d0d0" stroke-width="0.78"><tspan x="83.59" textLength="68.51" lengthAdjust="spacingAndGlyphs">LIVE</tspan> <tspan x="164.4" textLength="26.89" lengthAdjust="spacingAndGlyphs">—</tspan> <tspan x="203.4" textLength="129.15" lengthAdjust="spacingAndGlyphs">Slippage</tspan> <tspan x="344.4" textLength="185.52" lengthAdjust="spacingAndGlyphs">Distribution:</tspan> <tspan x="542.37" textLength="78.97" lengthAdjust="spacingAndGlyphs">Entry</tspan> <tspan x="634.4" textLength="31.8" lengthAdjust="spacingAndGlyphs">vs</tspan> <tspan x="676.83" textLength="55.94" lengthAdjust="spacingAndGlyphs">Exit</tspan></text>
<text y="356" font-size="32" fill="#d0d0d0" stroke="#d0d0d0" stroke-width="0.83"><tspan x="647.8" textLength="85.24" lengthAdjust="spacingAndGlyphs">Entry</tspan> <tspan x="744.81" textLength="137.57" lengthAdjust="spacingAndGlyphs">Slippage</tspan> <tspan x="894.45" textLength="115.6" lengthAdjust="spacingAndGlyphs">(n=98)</tspan></text>
<text y="1000" font-size="32" fill="#d0d0d0" stroke="#d0d0d0" stroke-width="0.83"><tspan x="661.39" textLength="60.76" lengthAdjust="spacingAndGlyphs">Exit</tspan> <tspan x="733.1" textLength="138.29" lengthAdjust="spacingAndGlyphs">Slippage</tspan> <tspan x="883.25" textLength="115.8" lengthAdjust="spacingAndGlyphs">(n=97)</tspan></text>
<rect x="143" y="397" width="148.39999999999998" height="122" fill="rgba(0,0,0,0.5)" stroke="#555" stroke-width="2"/>
<text x="154" y="425.6" font-family="'Liberation Sans',Arial,sans-serif" font-size="20" fill="#e2e2e2" stroke="#e2e2e2" stroke-width="0.35" font-weight="bold">Entry</text>
<text x="154" y="451.6" font-family="'Liberation Sans',Arial,sans-serif" font-size="20" fill="#e2e2e2" stroke="#e2e2e2" stroke-width="0.35">Median: 11.99</text>
<text x="154" y="477.6" font-family="'Liberation Sans',Arial,sans-serif" font-size="20" fill="#e2e2e2" stroke="#e2e2e2" stroke-width="0.35">Mean: 13.72</text>
<text x="154" y="503.6" font-family="'Liberation Sans',Arial,sans-serif" font-size="20" fill="#e2e2e2" stroke="#e2e2e2" stroke-width="0.35">Std: 9.21</text>
<rect x="143" y="1041" width="138.2" height="122" fill="rgba(0,0,0,0.5)" stroke="#555" stroke-width="2"/>
<text x="154" y="1069.6" font-family="'Liberation Sans',Arial,sans-serif" font-size="20" fill="#e2e2e2" stroke="#e2e2e2" stroke-width="0.35" font-weight="bold">Exit</text>
<text x="154" y="1095.6" font-family="'Liberation Sans',Arial,sans-serif" font-size="20" fill="#e2e2e2" stroke="#e2e2e2" stroke-width="0.35">Median: 0.00</text>
<text x="154" y="1121.6" font-family="'Liberation Sans',Arial,sans-serif" font-size="20" fill="#e2e2e2" stroke="#e2e2e2" stroke-width="0.35">Mean: -1.00</text>
<text x="154" y="1147.6" font-family="'Liberation Sans',Arial,sans-serif" font-size="20" fill="#e2e2e2" stroke="#e2e2e2" stroke-width="0.35">Std: 12.84</text>
<g transform="translate(1229.8,296) scale(0.032) matrix(1 0 0 -1 0 850)"><path d="m500 450c-83 0-150-67-150-150 0-83 67-150 150-150 83 0 150 67 150 150 0 83-67 150-150 150z m400 150h-120c-16 0-34 13-39 29l-31 93c-6 15-23 28-40 28h-340c-16 0-34-13-39-28l-31-94c-6-15-23-28-40-28h-120c-55 0-100-45-100-100v-450c0-55 45-100 100-100h800c55 0 100 45 100 100v450c0 55-45 100-100 100z m-400-550c-138 0-250 112-250 250 0 138 112 250 250 250 138 0 250-112 250-250 0-138-112-250-250-250z m365 380c-19 0-35 16-35 35 0 19 16 35 35 35 19 0 35-16 35-35 0-19-16-35-35-35z" fill="#626262"/></g>
<g transform="translate(1294,296) scale(0.032) matrix(1 0 0 -1 0 850)"><path d="m1000-25l-250 251c40 63 63 138 63 218 0 224-182 406-407 406-224 0-406-182-406-406s183-406 407-406c80 0 155 22 218 62l250-250 125 125z m-812 250l0 438 437 0 0-438-437 0z m62 375l313 0 0-312-313 0 0 312z" fill="#bdbdbd"/></g>
<g transform="translate(1342,296) scale(0.032) matrix(1 0 0 -1 0 850)"><path d="m1000 350l-187 188 0-125-250 0 0 250 125 0-188 187-187-187 125 0 0-250-250 0 0 125-188-188 186-187 0 125 252 0 0-250-125 0 187-188 188 188-125 0 0 250 250 0 0-126 187 188z" fill="#626262"/></g>
<g transform="translate(1408,296) scale(0.032) matrix(1 0 0 -1 0 850)"><path d="m1 787l0-875 875 0 0 875-875 0z m687-500l-187 0 0-187-125 0 0 187-188 0 0 125 188 0 0 187 125 0 0-187 187 0 0-125z" fill="#626262"/></g>
<g transform="translate(1456,296) scale(0.032) matrix(1 0 0 -1 0 850)"><path d="m0 788l0-876 875 0 0 876-875 0z m688-500l-500 0 0 125 500 0 0-125z" fill="#626262"/></g>
<g transform="translate(1502,296) scale(0.032) matrix(1 0 0 -1 0 850)"><path d="m250 850l-187 0-63 0 0-62 0-188 63 0 0 188 187 0 0 62z m688 0l-188 0 0-62 188 0 0-188 62 0 0 188 0 62-62 0z m-875-938l0 188-63 0 0-188 0-62 63 0 187 0 0 62-187 0z m875 188l0-188-188 0 0-62 188 0 62 0 0 62 0 188-62 0z m-125 188l-1 0-93-94-156 156 156 156 92-93 2 0 0 250-250 0 0-2 93-92-156-156-156 156 94 92 0 2-250 0 0-250 0 0 93 93 157-156-157-156-93 94 0 0 0-250 250 0 0 0-94 93 156 157 156-157-93-93 0 0 250 0 0 250z" fill="#626262"/></g>
<g transform="translate(1551,296) scale(0.032) matrix(1 0 0 -1 0 850)"><path d="m786 296v-267q0-15-11-26t-25-10h-214v214h-143v-214h-214q-15 0-25 10t-11 26v267q0 1 0 2t0 2l321 264 321-264q1-1 1-4z m124 39l-34-41q-5-5-12-6h-2q-7 0-12 3l-386 322-386-322q-7-4-13-4-7 2-12 7l-35 41q-4 5-3 13t6 12l401 334q18 15 42 15t43-15l136-114v109q0 8 5 13t13 5h107q8 0 13-5t5-13v-227l122-102q5-5 6-12t-4-13z" fill="#626262"/></g>
</svg>
</body></html>
